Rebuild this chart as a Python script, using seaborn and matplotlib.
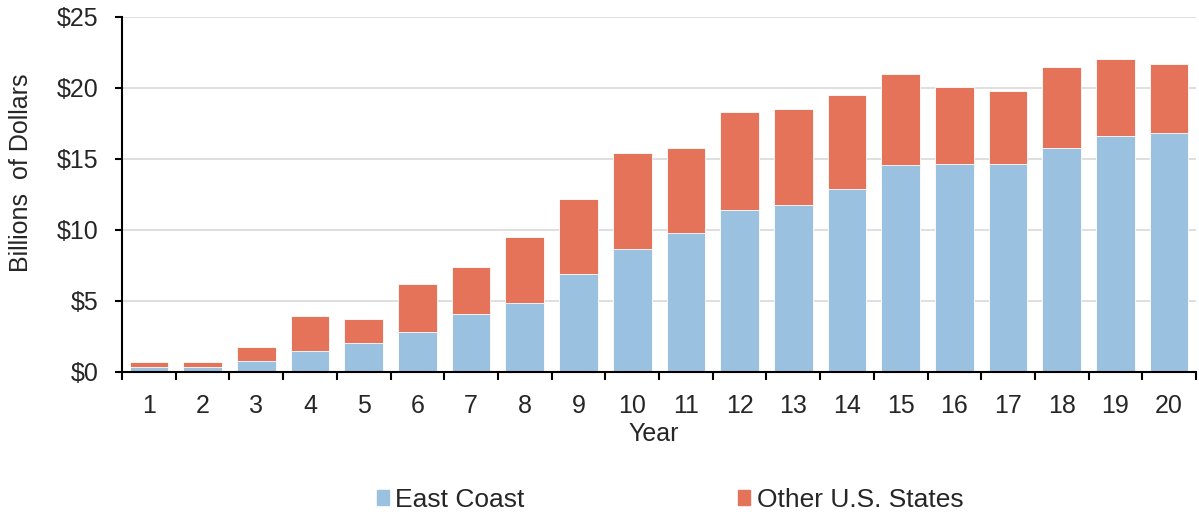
#!/usr/bin/env python3
import pandas as pd
import seaborn as sns
import matplotlib.pyplot as plt
from matplotlib.patches import Patch

years = [str(y) for y in range(1, 21)]
east_coast = [0.3, 0.3, 0.72, 1.44, 2.0, 2.76, 4.05, 4.8, 6.87, 8.67,
              9.78, 11.37, 11.75, 12.87, 14.54, 14.66, 14.66, 15.79, 16.63, 16.8]
total = [0.69, 0.69, 1.73, 3.89, 3.67, 6.2, 7.34, 9.49, 12.2, 15.39,
         15.76, 18.3, 18.49, 19.52, 21.0, 20.08, 19.8, 21.49, 22.03, 21.65]
y_ticks = [0, 5, 10, 15, 20, 25]

blue = "#9BC1E0"
orange = "#E5735A"


def main():
    sns.set_style("white")
    plt.rcParams['font.family'] = ['Liberation Sans', 'DejaVu Sans']

    df = pd.DataFrame({"year": years, "east": east_coast, "total": total})

    fig = plt.figure(figsize=(11.99, 5.18), dpi=100)
    ax = fig.add_axes([0.1018, 0.2828, 0.8957, 0.6844])

    # other states stacked on top: draw totals first, then east coast over them
    sns.barplot(data=df, x="year", y="total", color=orange, width=0.72,
                edgecolor="white", linewidth=0.6, saturation=1, ax=ax)
    sns.barplot(data=df, x="year", y="east", color=blue, width=0.72,
                edgecolor="white", linewidth=0.6, saturation=1, ax=ax)

    ax.set_ylim(0, 25)
    ax.set_xlim(-0.5, len(years) - 0.5)
    ax.set_yticks(y_ticks)
    ax.set_yticklabels([f"${v}" for v in y_ticks], fontsize=18)
    ax.yaxis.grid(True, color="#d9d9d9", linewidth=1.2)
    ax.set_axisbelow(True)

    ax.set_xticks(range(len(years)))
    ax.set_xticklabels(years, fontsize=18)
    ax.set_xticks([i - 0.5 for i in range(len(years) + 1)], minor=True)
    ax.tick_params(axis="x", which="major", length=0, pad=16)
    ax.tick_params(axis="x", which="minor", length=6, width=1.5, color="black",
                   direction="out", bottom=True)
    ax.tick_params(axis="y", length=5, width=1.5, color="black", direction="out",
                   left=True, pad=12)

    for side in ["top", "right"]:
        ax.spines[side].set_visible(False)
    for side in ["left", "bottom"]:
        ax.spines[side].set_color("black")
        ax.spines[side].set_linewidth(1.5)

    ax.set_xlabel("Year", fontsize=18)
    ax.xaxis.set_label_coords(0.495, -0.143)
    ax.set_ylabel("Billions  of Dollars", fontsize=18)
    ax.yaxis.set_label_coords(-0.083, 0.56)

    handles = [Patch(color=blue, label="East Coast"),
               Patch(color=orange, label="Other U.S. States")]
    fig.legend(handles=handles, loc="center", bbox_to_anchor=(0.559, 0.035),
               ncol=2, frameon=False, fontsize=19, columnspacing=8.1,
               handlelength=0.45, handleheight=0.45, handletextpad=0.25)

    fig.savefig("out.png", dpi=100)


if __name__ == "__main__":
    main()
